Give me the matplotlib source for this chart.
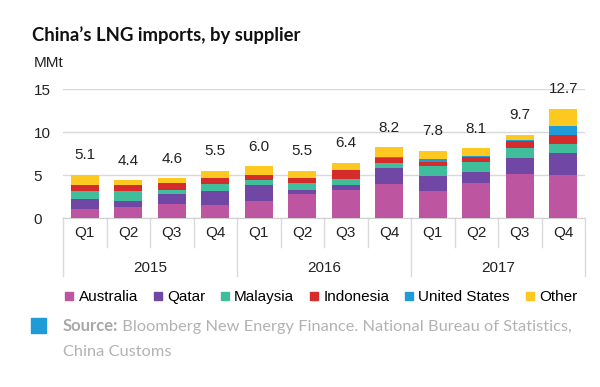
import matplotlib
matplotlib.use('AGG')

import numpy as np
import matplotlib.pyplot as plt
import matplotlib.transforms as transforms
from matplotlib.lines import Line2D
from matplotlib.patches import Rectangle

# Quarterly LNG imports (MMt)
quarters = ['Q1', 'Q2', 'Q3', 'Q4'] * 3
years = ['2015', '2016', '2017']
totals = [5.1, 4.4, 4.6, 5.5, 6.0, 5.5, 6.4, 8.2, 7.8, 8.1, 9.7, 12.7]

australia = [1.05, 1.25, 1.65, 1.5, 2.0, 2.8, 3.3, 3.9, 3.1, 4.1, 5.1, 5.05]
qatar = [1.2, 0.7, 1.1, 1.6, 1.85, 0.5, 0.55, 1.9, 1.8, 1.3, 1.9, 2.5]
malaysia = [0.9, 1.15, 0.5, 0.8, 0.6, 0.75, 0.7, 0.6, 1.1, 1.1, 1.1, 1.0]
indonesia = [0.7, 0.7, 0.85, 0.7, 0.6, 0.65, 1.0, 0.55, 0.55, 0.6, 0.85, 1.1]
united_states = [0, 0, 0, 0, 0, 0, 0, 0.15, 0.3, 0.15, 0.15, 1.0]
other = [1.2, 0.6, 0.5, 0.9, 1.0, 0.8, 0.85, 1.1, 0.95, 0.85, 0.6, 2.05]

series = [
    ('Australia', australia, '#BD55A0'),
    ('Qatar', qatar, '#7147A6'),
    ('Malaysia', malaysia, '#40BE9B'),
    ('Indonesia', indonesia, '#D62B2B'),
    ('United States', united_states, '#1F9CD8'),
    ('Other', other, '#FDC81F'),
]

plt.rcParams['font.family'] = ['Liberation Sans', 'DejaVu Sans']

fig = plt.figure(figsize=(6.0, 3.87), dpi=100)
ax = fig.add_axes([63 / 600, 1 - 218 / 387, (585 - 63) / 600, 129 / 387])

x = np.arange(len(totals))
bottom = np.zeros(len(totals))
for name, vals, color in series:
    vals = np.array(vals)
    ax.bar(x, vals, bottom=bottom, width=0.65, color=color, linewidth=0, zorder=3)
    bottom += vals

for xi, tot in zip(x, totals):
    ax.annotate(f'{tot:.1f}', xy=(xi, tot), xytext=(0, 9), textcoords='offset points',
                ha='center', va='bottom', fontsize=11, color='#222222', annotation_clip=False)

ax.set_xlim(-0.5, 11.5)
ax.set_ylim(0, 15)

# grid and axes
ax.set_yticks([0, 5, 10, 15])
ax.set_yticklabels(['0', '5', '10', '15'])
for lab in ax.get_yticklabels():
    lab.set_ha('left')
ax.tick_params(axis='y', length=0, pad=21, labelsize=11, labelcolor='#222222')
ax.grid(axis='y', color='#D9D9D9', linewidth=1, zorder=0)
for s in ['top', 'right', 'left']:
    ax.spines[s].set_visible(False)
ax.spines['bottom'].set_color('#D0D0D0')

# category axis: quarters and years
ax.set_xticks(x)
ax.set_xticklabels(quarters)
ax.tick_params(axis='x', length=0, pad=6, labelsize=11, labelcolor='#222222')

trans = transforms.blended_transform_factory(ax.transData, ax.transAxes)
for i in range(13):
    pos = i - 0.5
    low = -0.45 if i % 4 == 0 else -0.225
    ax.plot([pos, pos], [0, low], transform=trans, color='#DADADA', linewidth=1, clip_on=False)
for j, yr in enumerate(years):
    ax.text(j * 4 + 1.5, -0.39, yr, transform=trans, ha='center', va='center',
            fontsize=11, color='#222222')

# title and unit
fig.text(32 / 600, 1 - 35 / 387, 'China\u2019s LNG imports, by supplier', fontsize=13.3,
         fontweight='bold', family='Lato', ha='left', va='center', color='#111111')
fig.text(34 / 600, 1 - 63 / 387, 'MMt', fontsize=11, ha='left', va='center', color='#222222')

# legend
handles = [Line2D([], [], marker='s', linestyle='none', markersize=6, color=c) for _, _, c in series]
fig.legend(handles, [n for n, _, _ in series], loc='center', bbox_to_anchor=(0.535, 1 - 297 / 387),
           ncol=6, frameon=False, fontsize=11, handlelength=0.6, handletextpad=0.3,
           columnspacing=1.0, borderpad=0)

# source note
fig.add_artist(Rectangle((31 / 600, 1 - 333 / 387), 15 / 600, 15 / 387,
                         transform=fig.transFigure, color='#1F9CD8'))
src = fig.text(63 / 600, 1 - 326 / 387, 'Source:', fontsize=12, fontweight='bold',
               family='Lato', color='#A8A8A8', ha='left', va='center')
ax.annotate(' Bloomberg New Energy Finance. National Bureau of Statistics,', xy=(1, 0),
            xycoords=src, ha='left', va='bottom', fontsize=11.8, family='Lato',
            color='#B2B2B2', annotation_clip=False)
fig.text(63 / 600, 1 - 352 / 387, 'China Customs', fontsize=11.8, family='Lato',
         color='#B2B2B2', ha='left', va='center')

fig.savefig('out.png', dpi=100)
